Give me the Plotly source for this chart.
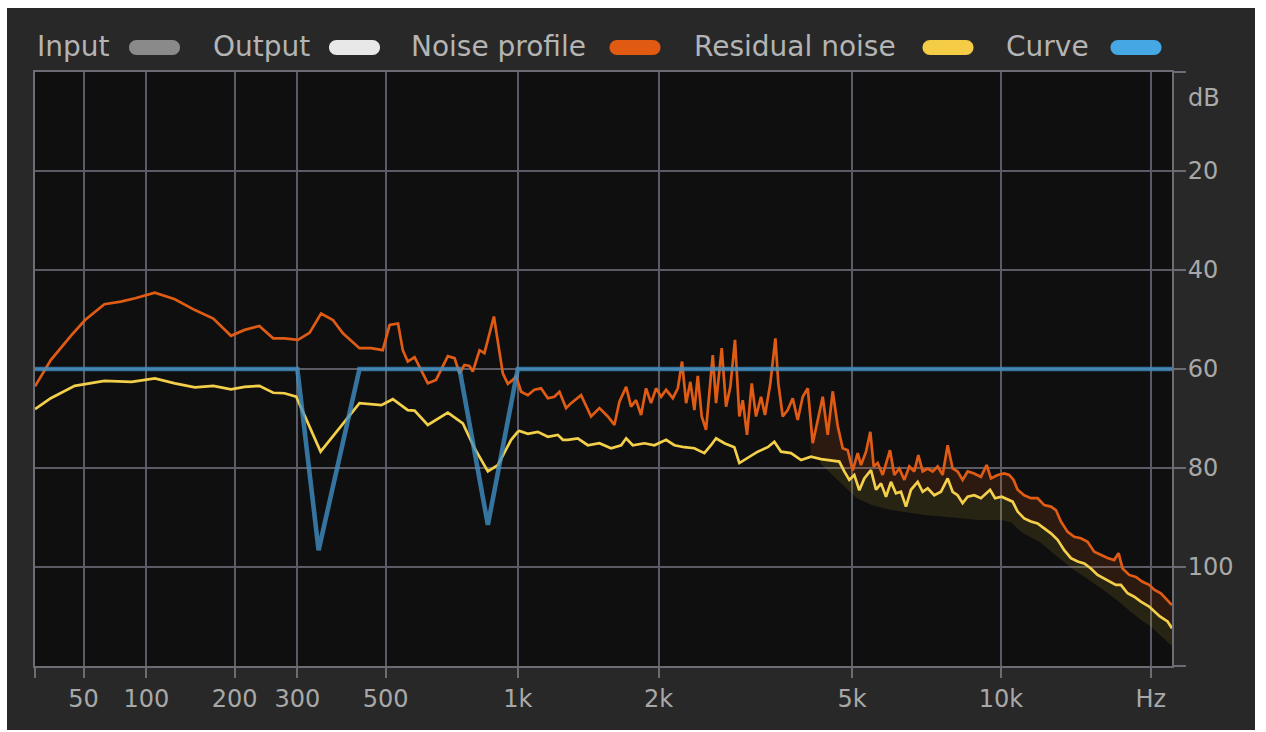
import math
import plotly.graph_objects as go

# ---------------- data ----------------
noise_freq = [20, 29, 42, 51, 65, 78, 90, 108, 128, 150, 172, 195, 214, 236, 258, 277, 301, 323, 346, 371,
              393, 432, 461, 492, 511, 535, 549, 564, 585, 628, 656, 698, 723, 742, 761, 781, 795, 823, 844, 886,
              927, 951, 972, 992, 1017, 1052, 1087, 1124, 1163, 1201, 1232, 1273, 1305, 1371, 1440, 1500, 1563,
              1614, 1654, 1709, 1750, 1793, 1837, 1882, 1928, 1975, 2024, 2073, 2141, 2193, 2238, 2282, 2329,
              2374, 2413, 2459, 2510, 2550, 2592, 2633, 2705, 2761, 2818, 2881, 2941, 2989, 3050, 3119, 3183,
              3259, 3321, 3406, 3488, 3537, 3611, 3697, 3785, 3875, 3968, 4063, 4159, 4244, 4359, 4462, 4568,
              4676, 4787, 4901, 5017, 5135, 5215, 5339, 5447, 5534, 5639, 5772, 5908, 5972, 6093, 6237, 6384,
              6534, 6688, 6814, 6954, 7118, 7285, 7457, 7631, 7811, 7994, 8182, 8374, 8570, 8837, 9116, 9360,
              9550, 9850, 10156, 10394, 10607, 10806, 11141, 11492, 11854, 12221, 12607, 12902, 13202, 13618,
              14039, 14480, 14935, 15397, 15879, 16379, 16886, 17233, 17555, 18097, 18664, 19249, 19845, 20309,
              20945, 21604, 22050]
noise_db = [63.5, 58.2, 53.1, 50.1, 46.9, 46.4, 45.7, 44.6, 45.9, 48.1, 49.8, 53.3, 52.1, 51.3, 53.8, 53.8, 54.1,
            52.7, 48.8, 50.1, 52.8, 55.8, 55.8, 56.2, 51.1, 50.8, 56.2, 58.5, 57.6, 62.9, 62.2, 57.4, 57.8, 60.9,
            59.2, 59.4, 60.5, 56.2, 56.8, 49.4, 60.9, 63.0, 62.3, 61.5, 64.6, 65.3, 64.2, 63.9, 65.9, 65.6, 64.6,
            67.9, 66.9, 65.3, 69.6, 67.9, 69.6, 71.3, 66.6, 63.6, 67.6, 66.3, 69.3, 63.9, 66.9, 63.9, 65.6, 64.2,
            65.9, 63.9, 58.5, 66.9, 62.6, 68.3, 61.4, 69.6, 72.3, 64.9, 57.2, 66.9, 55.8, 67.6, 63.6, 54.1, 69.6,
            66.3, 73.3, 62.9, 69.6, 65.6, 69.3, 62.9, 53.8, 62.9, 69.6, 68.3, 65.9, 70.3, 65.6, 63.9, 75.0, 71.0,
            65.6, 73.3, 64.5, 71.5, 76.0, 76.4, 80.5, 77.0, 79.4, 76.7, 72.7, 79.7, 79.0, 81.4, 78.0, 76.4, 81.4,
            80.1, 82.4, 79.7, 80.7, 77.4, 80.7, 80.1, 80.7, 79.7, 81.4, 75.4, 80.1, 80.7, 82.4, 80.7, 81.1, 81.8,
            79.4, 82.1, 81.4, 81.1, 81.4, 82.4, 84.4, 85.5, 86.1, 86.1, 87.5, 87.8, 88.5, 90.8, 92.9, 93.9, 94.2,
            94.9, 96.9, 97.6, 98.2, 98.6, 97.2, 100.3, 101.6, 102.0, 103.0, 103.6, 104.6, 105.3, 106.7, 107.7]

residual_freq = [20, 29, 44, 65, 87, 108, 128, 150, 172, 195, 214, 236, 258, 277, 298, 345, 432, 488, 520, 544,
                 564, 585, 628, 698, 755, 802, 859, 904, 935, 967, 1000, 1009, 1052, 1106, 1163, 1222, 1253, 1284,
                 1349, 1417, 1500, 1588, 1668, 1709, 1765, 1867, 1959, 2073, 2157, 2263, 2374, 2490, 2570, 2633,
                 2739, 2872, 2941, 3061, 3209, 3365, 3471, 3583, 3755, 3937, 4125, 4324, 4532, 4711, 4823, 4937,
                 5054, 5174, 5296, 5464, 5594, 5727, 5862, 5999, 6140, 6285, 6434, 6585, 6794, 6954, 7118, 7340,
                 7571, 7811, 7994, 8182, 8374, 8570, 8837, 9116, 9511, 9733, 10034, 10350, 10558, 10806, 11141,
                 11492, 11854, 12221, 12607, 13004, 13408, 13829, 14264, 14705, 15166, 15642, 16127, 16631, 17020,
                 17417, 17965, 18520, 19100, 19845, 20218, 20851, 21604, 22050]
residual_db = [68.1, 65.9, 63.4, 62.4, 62.6, 61.9, 62.9, 63.7, 63.4, 64.1, 63.6, 63.4, 64.8, 64.9, 65.6, 76.7,
               66.9, 67.3, 66.1, 67.3, 68.3, 68.4, 71.3, 68.8, 71.0, 76.0, 80.7, 79.4, 76.7, 74.3, 72.7, 72.5,
               73.1, 72.7, 73.7, 73.3, 74.3, 74.3, 74.0, 75.4, 75.0, 76.0, 75.4, 74.0, 75.4, 75.0, 75.4, 74.3,
               75.4, 75.8, 76.0, 77.0, 75.4, 74.0, 75.0, 75.8, 79.0, 78.0, 76.7, 75.8, 74.7, 76.7, 77.0, 78.4,
               77.7, 78.2, 78.5, 78.7, 80.7, 82.4, 81.4, 84.5, 82.1, 80.4, 84.4, 83.1, 85.8, 82.8, 85.1, 84.8,
               87.8, 84.4, 82.8, 84.8, 84.1, 85.5, 84.8, 82.1, 84.8, 85.5, 87.1, 85.8, 85.5, 86.1, 84.4, 86.1,
               85.8, 86.5, 86.8, 88.8, 90.2, 90.8, 91.2, 92.2, 93.2, 94.5, 96.6, 98.2, 98.9, 99.3, 100.3, 101.6,
               102.3, 103.0, 103.6, 103.6, 105.3, 106.0, 107.0, 108.0, 108.7, 110.0, 111.0, 112.4]

# lower edge of the residual-noise spread (dark olive band)
residual_low_freq = [4300, 4800, 5100, 5500, 6000, 7000, 8000, 9000, 10000, 10500, 11000, 12000, 13000, 14000,
                     15000, 16000, 17000, 18000, 19000, 20000, 21000, 22050]
residual_low_db = [79.0, 83.5, 86.0, 87.5, 88.5, 89.5, 90.0, 90.5, 90.5, 91.0, 93.0, 95.0, 98.0, 100.5, 102.5,
                   104.5, 106.5, 108.5, 110.5, 112.0, 114.0, 116.0]

curve_freq = [20, 300, 341, 432, 742, 859, 1000, 22050]
curve_db = [60, 60, 96.6, 60, 60, 91.5, 60, 60]

x_tick_freqs = [20, 50, 100, 200, 300, 500, 1000, 2000, 5000, 10000, 20000]
x_tick_labels = ["", "50", "100", "200", "300", "500", "1k", "2k", "5k", "10k", "Hz"]
y_tick_vals = [0, 20, 40, 60, 80, 100, 120]
y_tick_labels = ["", "20", "40", "60", "80", "100", ""]

legend_names = ["Input", "Output", "Noise profile", "Residual noise", "Curve"]
legend_colors = ["#8a8a8a", "#e8e8e8", "#e05a12", "#f5cc45", "#45a8e5"]

# ---------------- styling / layout constants ----------------
FREQ_OFFSET = 100          # display scale: log(f + 100) (analyser's warped frequency axis)
F_MIN, F_MAX = 20, 22050
W, H = 1266, 732
ML, MR, MT, MB = 35, 94, 72, 66
PW, PH = W - ML - MR, H - MT - MB
FONT = "DejaVu Sans"
GRID = "#5b5b66"
AXIS = "#6c6c74"


def sx(fs):
    return [f + FREQ_OFFSET for f in fs]


def px_x(p):
    return (p - ML) / PW


def px_y(p):
    return (H - MB - p) / PH


fig = go.Figure()

# brown spread under the noise profile (down to the residual line) at high frequencies
up = [(f, d) for f, d in zip(noise_freq, noise_db) if f >= 4060]
lo = [(f, d) for f, d in zip(residual_freq, residual_db) if f >= 4060][::-1]
fig.add_trace(go.Scatter(x=sx([p[0] for p in up + lo]), y=[p[1] for p in up + lo], fill="toself",
                         fillcolor="rgba(225,95,20,0.14)", line=dict(width=0), mode="lines",
                         hoverinfo="skip", showlegend=False))
# olive spread under the residual noise
up = [(f, d) for f, d in zip(residual_freq, residual_db) if f >= 4300]
lo = list(zip(residual_low_freq, residual_low_db))[::-1]
fig.add_trace(go.Scatter(x=sx([p[0] for p in up + lo]), y=[p[1] for p in up + lo], fill="toself",
                         fillcolor="rgba(210,180,50,0.13)", line=dict(width=0), mode="lines",
                         hoverinfo="skip", showlegend=False))

fig.add_trace(go.Scatter(x=sx(residual_freq), y=residual_db, mode="lines", name="Residual noise",
                         line=dict(color="#f3cf4a", width=2.7), showlegend=False))
fig.add_trace(go.Scatter(x=sx(noise_freq), y=noise_db, mode="lines", name="Noise profile",
                         line=dict(color="#e05c14", width=2.7), showlegend=False))
fig.add_trace(go.Scatter(x=sx(curve_freq), y=curve_db, mode="lines", name="Curve",
                         line=dict(color="rgba(64,145,200,0.78)", width=4.6), showlegend=False))

shapes = [
    dict(type="rect", xref="paper", yref="paper", x0=px_x(7), x1=px_x(1255), y0=px_y(730), y1=px_y(8),
         fillcolor="#282828", line=dict(width=0), layer="below"),
    dict(type="rect", xref="paper", yref="paper", x0=0, x1=1, y0=0, y1=1,
         fillcolor="#0f0f0f", line=dict(width=0), layer="below"),
]
annotations = []

# custom legend: label followed by a pill swatch
legend_text_px = [35, 211, 409, 692, 1004]
legend_pill_px = [154.5, 354.5, 635, 948, 1136]
pill = ("M -18,-7.5 L 18,-7.5 C 22.14,-7.5 25.5,-4.14 25.5,0 C 25.5,4.14 22.14,7.5 18,7.5 "
        "L -18,7.5 C -22.14,7.5 -25.5,4.14 -25.5,0 C -25.5,-4.14 -22.14,-7.5 -18,-7.5 Z")
for name, col, tx, pxc in zip(legend_names, legend_colors, legend_text_px, legend_pill_px):
    annotations.append(dict(text=name, xref="paper", yref="paper", x=px_x(tx), y=px_y(47),
                            xanchor="left", yanchor="middle", showarrow=False,
                            font=dict(family=FONT, size=28, color="#b4b4b4")))
    shapes.append(dict(type="path", xref="paper", yref="paper", xsizemode="pixel", ysizemode="pixel",
                       xanchor=px_x(pxc), yanchor=px_y(47.5), path=pill, fillcolor=col,
                       line=dict(width=0)))

annotations.append(dict(text="dB", xref="paper", yref="paper", x=px_x(1186), y=px_y(98),
                        xanchor="left", yanchor="middle", showarrow=False,
                        font=dict(family=FONT, size=24, color="#aaaaaa")))

fig.update_layout(
    width=W, height=H,
    margin=dict(l=ML, r=MR, t=MT, b=MB, pad=0),
    paper_bgcolor="#ffffff", plot_bgcolor="#0f0f0f",
    shapes=shapes, annotations=annotations, showlegend=False,
    font=dict(family=FONT, color="#aaaaaa"),
)
fig.update_xaxes(
    type="log", range=[math.log10(F_MIN + FREQ_OFFSET), math.log10(F_MAX + FREQ_OFFSET)],
    tickmode="array", tickvals=sx(x_tick_freqs), ticktext=x_tick_labels,
    showgrid=True, gridcolor=GRID, gridwidth=1.6, zeroline=False,
    showline=True, linecolor=AXIS, linewidth=2, mirror=True,
    ticks="outside", ticklen=10, tickwidth=2, tickcolor=AXIS,
    tickfont=dict(family=FONT, size=24, color="#a8a8a8"), ticklabelstandoff=0,
)
fig.update_yaxes(
    range=[120, 0], side="right",
    tickmode="array", tickvals=y_tick_vals, ticktext=y_tick_labels,
    showgrid=True, gridcolor=GRID, gridwidth=1.6, zeroline=False,
    showline=True, linecolor=AXIS, linewidth=2, mirror=True,
    ticks="outside", ticklen=12, tickwidth=2, tickcolor=AXIS,
    tickfont=dict(family=FONT, size=24, color="#a8a8a8"), ticklabelstandoff=-3,
)

fig.write_html("out.html", config={"displayModeBar": False},
               post_script="document.body.style.margin='0px';")
